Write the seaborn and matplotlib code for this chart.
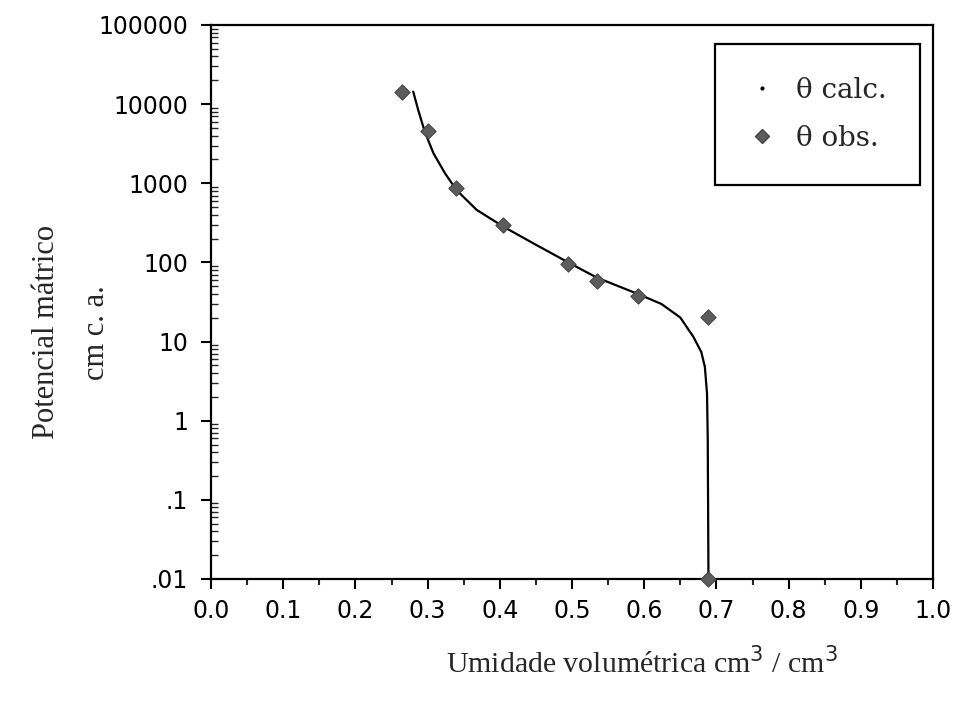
import matplotlib
matplotlib.use("Agg")
import matplotlib.pyplot as plt
from matplotlib.lines import Line2D
from matplotlib.ticker import FixedLocator, LogLocator, NullFormatter, MultipleLocator
import seaborn as sns
import pandas as pd

# ---- data ----
theta_obs = [0.264, 0.300, 0.339, 0.405, 0.494, 0.534, 0.592, 0.689, 0.689]
h_obs = [14400, 4600, 860, 296, 95, 59, 37.5, 20.2, 0.01]

theta_calc = [0.280, 0.287, 0.296, 0.308, 0.324, 0.340, 0.368, 0.405, 0.446,
              0.493, 0.534, 0.591, 0.624, 0.650, 0.668, 0.679, 0.684, 0.687,
              0.688, 0.689]
h_calc = [14400, 8400, 4500, 2400, 1340, 820, 460, 283, 175,
          102, 64.5, 40, 29.8, 20.1, 11.5, 7.4, 4.8, 2.2,
          0.57, 0.01]

x_ticks = [0.0, 0.1, 0.2, 0.3, 0.4, 0.5, 0.6, 0.7, 0.8, 0.9, 1.0]
x_labels = ["0.0", "0.1", "0.2", "0.3", "0.4", "0.5", "0.6", "0.7", "0.8", "0.9", "1.0"]
y_ticks = [0.01, 0.1, 1, 10, 100, 1000, 10000, 100000]
y_labels = [".01", ".1", "1", "10", "100", "1000", "10000", "100000"]

legend_labels = ["θ calc.", "θ obs."]

df_calc = pd.DataFrame({"theta": theta_calc, "h": h_calc})
df_obs = pd.DataFrame({"theta": theta_obs, "h": h_obs})

sns.set_style("white")
plt.rcParams["font.family"] = ["DejaVu Sans"]
plt.rcParams["ytick.direction"] = "in"

fig = plt.figure(figsize=(9.58, 7.04), dpi=100)
ax = fig.add_axes([0.2203, 0.1776, 0.9739 - 0.2203, 0.9645 - 0.1776])

sns.lineplot(data=df_calc, x="theta", y="h", sort=False, color="black",
             linewidth=1.6, ax=ax, legend=False)
sns.scatterplot(data=df_obs, x="theta", y="h", marker="D", s=60,
                color="#5c5c5c", edgecolor="#444444", linewidth=0.8,
                ax=ax, legend=False, zorder=3, clip_on=False)

ax.set_yscale("log")
ax.set_xlim(0, 1.0)
ax.set_ylim(0.01, 100000)

ax.xaxis.set_major_locator(FixedLocator(x_ticks))
ax.set_xticklabels(x_labels)
ax.xaxis.set_minor_locator(MultipleLocator(0.05))
ax.yaxis.set_major_locator(FixedLocator(y_ticks))
ax.set_yticklabels(y_labels)
ax.yaxis.set_minor_locator(LogLocator(base=10, subs=range(2, 10), numticks=20))
ax.yaxis.set_minor_formatter(NullFormatter())

ax.tick_params(bottom=True, left=True, top=False, right=False, which="both")
ax.tick_params(axis="both", which="major", labelsize=17, colors="black",
               width=1.5, length=7.5, direction="out")
ax.tick_params(axis="y", which="major", pad=9)
ax.tick_params(axis="x", which="major", pad=7)
ax.tick_params(axis="x", which="minor", width=1.5, length=4, direction="out")
ax.yaxis.set_tick_params(which="minor", width=1.0, length=5, direction="in")

for sp in ax.spines.values():
    sp.set_visible(True)
    sp.set_color("black")
    sp.set_linewidth(1.6)

ax.set_xlabel("")
ax.set_ylabel("")

handles = [
    Line2D([], [], marker="o", linestyle="none", color="black", markersize=2),
    Line2D([], [], marker="D", linestyle="none", color="#5c5c5c",
           markeredgecolor="#444444", markersize=7),
]
leg = ax.legend(handles, legend_labels, loc="upper left",
                bbox_to_anchor=(0.698, 0.966), frameon=True, fancybox=False,
                framealpha=1, edgecolor="black", borderpad=1.2,
                labelspacing=0.75, handlelength=1.0, handletextpad=0.7,
                borderaxespad=0,
                prop={"family": "DejaVu Serif", "size": 20})
leg.get_frame().set_linewidth(1.6)

fig.text(0.670, 0.058, "Umidade volumétrica cm$^3$ / cm$^3$",
         ha="center", va="center", fontsize=21.5, family="Liberation Serif")
fig.text(0.049, 0.528, "Potencial mátrico", rotation=90, ha="center",
         va="center", fontsize=22, family="Liberation Serif")
fig.text(0.101, 0.528, "cm c. a.", rotation=90, ha="center",
         va="center", fontsize=22, family="Liberation Serif")

fig.savefig("out.png", dpi=100)
